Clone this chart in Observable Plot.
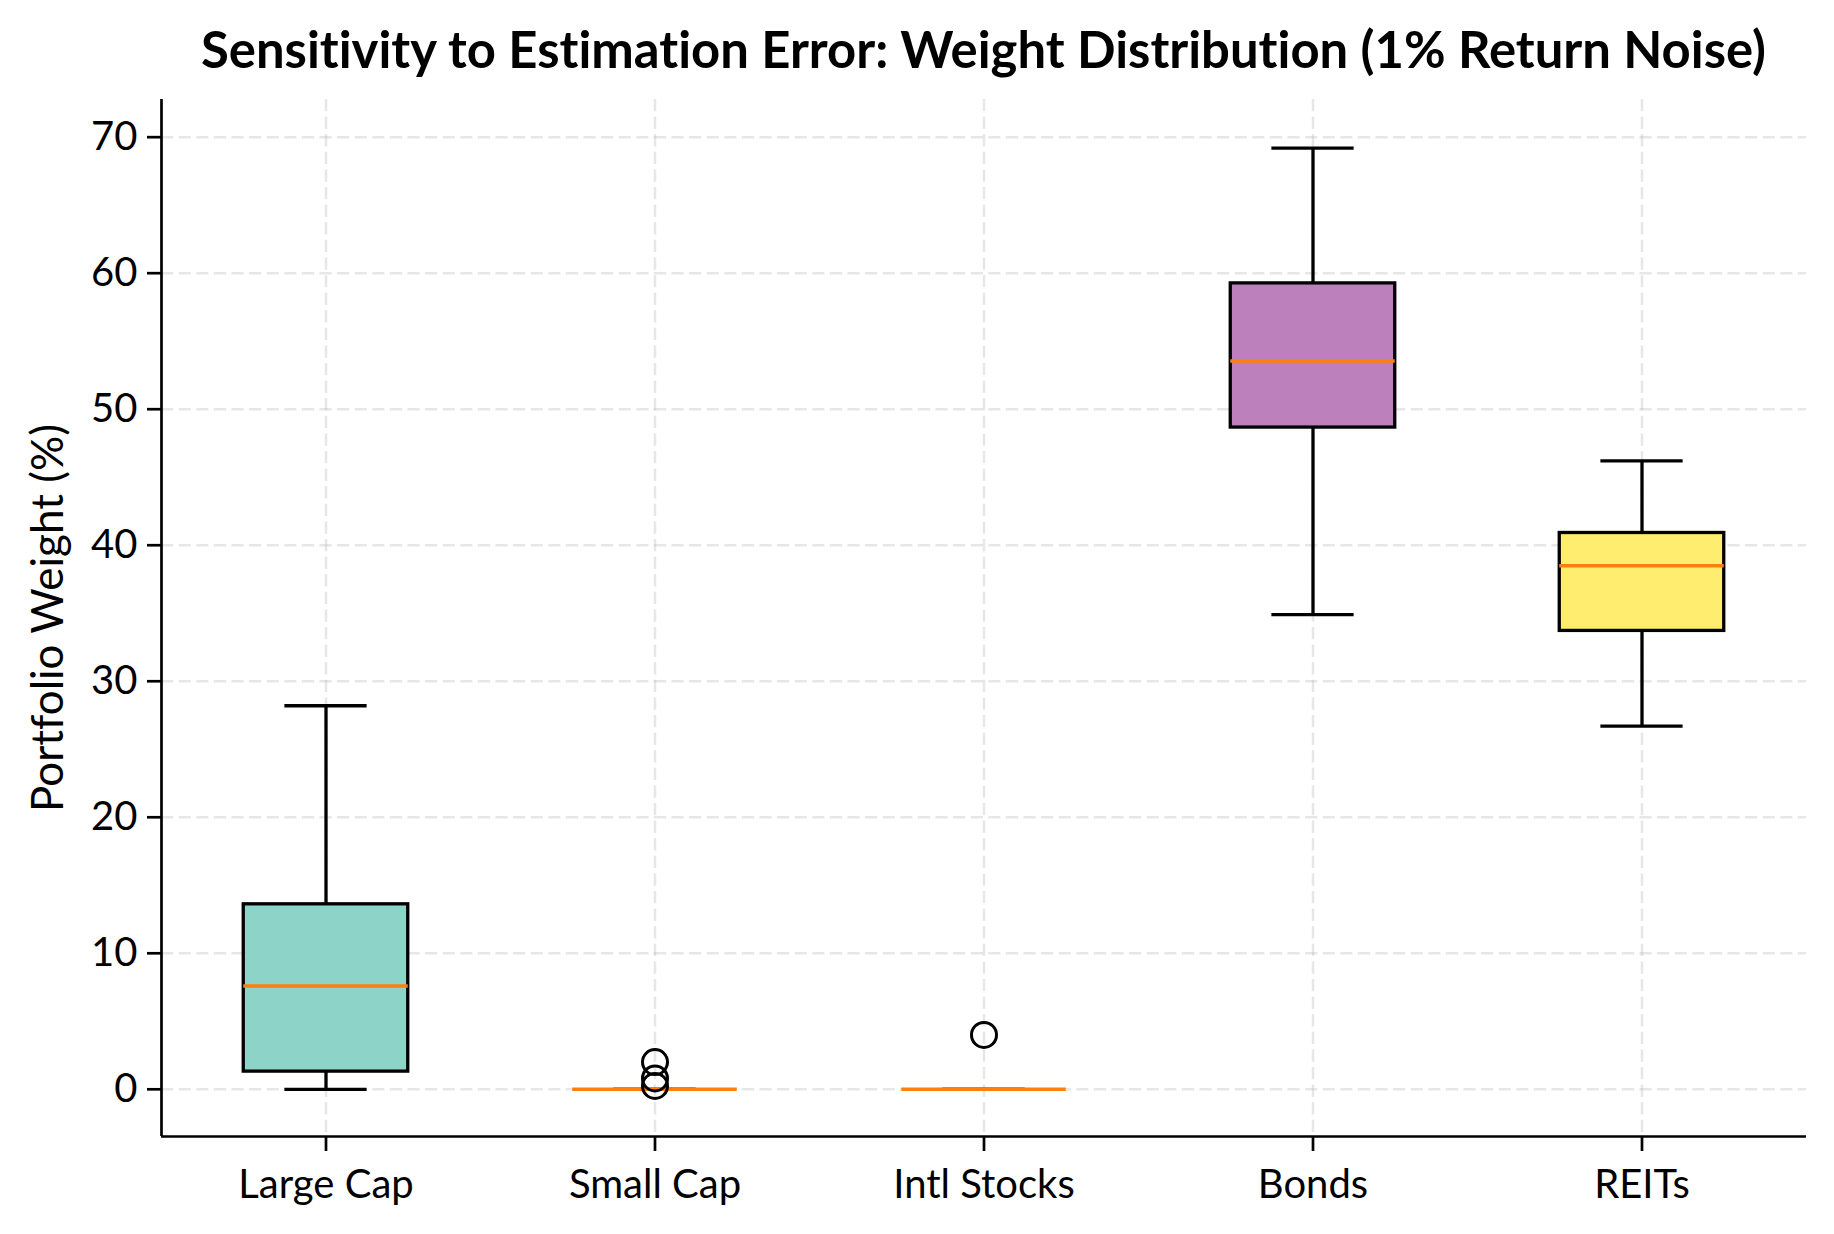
<!DOCTYPE html>
<html>
<head>
<meta charset="utf-8">
<script src="https://cdn.jsdelivr.net/npm/d3@7"></script>
<script src="https://cdn.jsdelivr.net/npm/@observablehq/plot@0.6"></script>
<style>
  html, body { margin: 0; padding: 0; background: #fff; }
  #wrap { width: 1834px; height: 1234px; position: relative; overflow: hidden; font-variant-ligatures: none; }
  #title { position: absolute; left: 161px; width: 1645px; top: 24px; text-align: center;
    font-family: Lato, "Noto Sans", sans-serif; font-weight: 700; font-size: 50.8px; line-height: 1; color: #000; white-space: nowrap;
    font-variant-ligatures: none; font-feature-settings: "liga" 0; }
  #chart { position: absolute; left: 0; top: 80px; }
  #chart svg text { font-variant-ligatures: none; font-feature-settings: "liga" 0; }
</style>
</head>
<body>
<div id="wrap">
  <div id="title">Sensitivity to Estimation Error: Weight Distribution (1% Return Noise)</div>
  <div id="chart"></div>
</div>
<script>
const categories = ["Large Cap", "Small Cap", "Intl Stocks", "Bonds", "REITs"];
const whiskerLow  = [0, 0, 0, 34.9, 26.7];
const q1          = [1.3, 0, 0, 48.65, 33.7];
const medians     = [7.6, 0, 0, 53.55, 38.5];
const q3          = [13.6, 0, 0, 59.25, 40.9];
const whiskerHigh = [28.2, 0, 0, 69.2, 46.2];
const outlierCategory = ["Small Cap", "Small Cap", "Small Cap", "Intl Stocks"];
const outlierValue    = [2.0, 0.8, 0.25, 4.0];
const boxColors = ["#8dd3c7", "#fb8072", "#b3de69", "#bc80bd", "#ffed6f"];
const yTicks = [0, 10, 20, 30, 40, 50, 60, 70];
const yLabel = "Portfolio Weight (%)";

const positions = categories.map((c, i) => i + 1);
const xDomain = [0.5, categories.length + 0.5];
const yDomain = [-3.47, 72.77];

const rows = categories.map((c, i) => ({
  cat: c, pos: i + 1, lo: whiskerLow[i], q1: q1[i], med: medians[i], q3: q3[i], hi: whiskerHigh[i], color: boxColors[i]
}));
const outliers = outlierCategory.map((c, i) => ({ pos: categories.indexOf(c) + 1, v: outlierValue[i] }));

const font = "Lato, 'Noto Sans', sans-serif";
const gridStyle = { stroke: "#b0b0b0", strokeOpacity: 0.3, strokeWidth: 2.5, strokeDasharray: "12.3,5.3" };
const lw = 3.3;

const chart = Plot.plot({
  width: 1834,
  height: 1154,
  marginLeft: 161,
  marginRight: 28,
  marginTop: 19,
  marginBottom: 98,
  style: { fontFamily: font, fontSize: "40px", color: "#000", background: "#fff" },
  x: { type: "linear", domain: xDomain },
  y: { type: "linear", domain: yDomain },
  marks: [
    Plot.gridY(yTicks, gridStyle),
    Plot.gridX(positions, gridStyle),
    Plot.ruleX(rows, { x: "pos", y1: "lo", y2: "q1", stroke: "#000", strokeWidth: lw }),
    Plot.ruleX(rows, { x: "pos", y1: "q3", y2: "hi", stroke: "#000", strokeWidth: lw }),
    Plot.ruleY(rows, { y: "lo", x1: d => d.pos - 0.125, x2: d => d.pos + 0.125, stroke: "#000", strokeWidth: lw }),
    Plot.ruleY(rows, { y: "hi", x1: d => d.pos - 0.125, x2: d => d.pos + 0.125, stroke: "#000", strokeWidth: lw }),
    Plot.rect(rows.filter(d => d.q3 > d.q1), { x1: d => d.pos - 0.25, x2: d => d.pos + 0.25, y1: "q1", y2: "q3", fill: "color", stroke: "#000", strokeWidth: lw }),
    Plot.ruleY(rows, { y: "med", x1: d => d.pos - 0.25, x2: d => d.pos + 0.25, stroke: "#ff7f0e", strokeWidth: 3.5 }),
    Plot.dot(outliers, { x: "pos", y: "v", r: 12.5, stroke: "#000", strokeWidth: 3, fill: "none" }),
    Plot.ruleX([xDomain[0]], { stroke: "#000", strokeWidth: 2.7 }),
    Plot.ruleY([yDomain[0]], { stroke: "#000", strokeWidth: 2.7 }),
    Plot.axisY(yTicks, { tickSize: 14, tickPadding: 10, strokeWidth: 2.7, label: null, fontSize: 40 }),
    Plot.axisX(positions, { tickSize: 15, tickPadding: 18, strokeWidth: 2.7, label: null, tickFormat: d => categories[d - 1], fontSize: 40 }),
    Plot.text([yLabel], { frameAnchor: "left", text: d => d, rotate: -90, dx: -99, lineAnchor: "bottom", textAnchor: "middle", fontSize: 44, fill: "#000" })
  ]
});
document.getElementById("chart").appendChild(chart);
</script>
</body>
</html>
